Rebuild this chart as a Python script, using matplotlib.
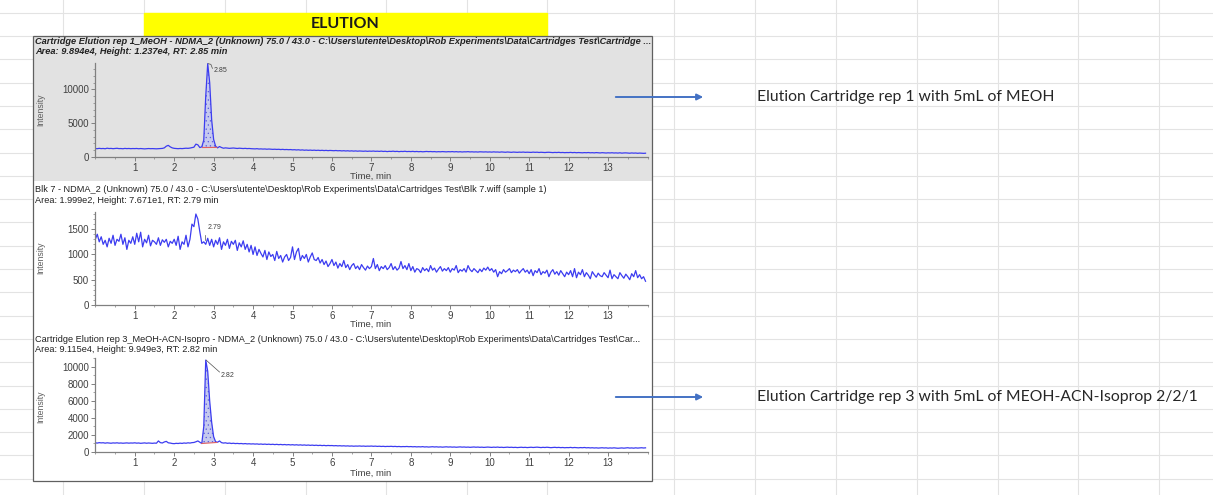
import numpy as np
import matplotlib.pyplot as plt
from matplotlib.patches import Rectangle
from matplotlib.ticker import MultipleLocator

plt.rcParams["hatch.linewidth"] = 0.4

# sampling of the traces, minutes
TIME_STEP = 0.05
N_POINTS = 280

# rep 1, MeOH (one row per minute)
rep1 = [
    1250, 1230, 1280, 1240, 1260, 1220, 1300, 1250, 1270, 1230, 1260, 1290, 1240, 1250, 1220, 1270, 1240, 1260, 1230, 1250,
    1240, 1260, 1220, 1250, 1230, 1200, 1220, 1250, 1230, 1240, 1220, 1210, 1230, 1250, 1270, 1350, 1600, 1720, 1500, 1350,
    1280, 1250, 1230, 1260, 1240, 1270, 1300, 1280, 1320, 1380, 1450, 1900, 1800, 1400, 1500, 2500, 9000, 13800, 11000, 5500,
    2600, 1600, 1350, 1550, 1400, 1300, 1350, 1320, 1280, 1300, 1330, 1290, 1260, 1300, 1270, 1250, 1280, 1240, 1260, 1230,
    1220, 1200, 1230, 1180, 1200, 1170, 1190, 1150, 1180, 1160, 1130, 1150, 1120, 1140, 1100, 1130, 1090, 1110, 1080, 1100,
    1060, 1080, 1040, 1070, 1020, 1050, 1000, 1030, 990, 1020, 980, 1010, 970, 1000, 960, 990, 950, 980, 940, 970,
    950, 930, 960, 920, 940, 900, 930, 890, 920, 880, 910, 870, 900, 860, 890, 870, 850, 880, 840, 870,
    850, 880, 840, 860, 830, 870, 820, 850, 800, 840, 820, 860, 810, 840, 790, 830, 810, 850, 800, 820,
    800, 830, 790, 820, 780, 810, 770, 800, 820, 790, 810, 780, 800, 760, 790, 770, 800, 780, 760, 790,
    770, 800, 760, 790, 750, 780, 740, 770, 760, 790, 750, 770, 740, 760, 730, 770, 750, 740, 760, 730,
    750, 720, 760, 730, 740, 710, 750, 720, 700, 740, 720, 690, 730, 710, 690, 720, 700, 730, 690, 710,
    700, 680, 720, 690, 710, 670, 700, 680, 660, 690, 700, 670, 650, 680, 660, 690, 650, 670, 640, 660,
    650, 680, 640, 670, 630, 660, 640, 620, 650, 630, 660, 620, 640, 610, 650, 630, 600, 640, 620, 590,
    620, 600, 630, 590, 610, 580, 620, 570, 600, 610, 580, 560, 600, 570, 590, 550, 580, 560, 540, 560,
]

# Blk 7
blank = [
    1300, 1400, 1250, 1350, 1200, 1280, 1150, 1320, 1220, 1380, 1180, 1300, 1260, 1400, 1200, 1330, 1100, 1280, 1220, 1350,
    1200, 1420, 1250, 1440, 1150, 1300, 1230, 1380, 1170, 1280, 1250, 1200, 1330, 1180, 1290, 1240, 1300, 1150, 1260, 1220,
    1300, 1180, 1360, 1100, 1250, 1200, 1380, 1150, 1300, 1600, 1550, 1800, 1700, 1450, 1220, 1250, 1200, 1320, 1180, 1300,
    1150, 1280, 1200, 1330, 1100, 1250, 1180, 1300, 1120, 1260, 1200, 1280, 1080, 1230, 1150, 1270, 1100, 1200, 1050, 1180,
    1000, 1150, 980, 1100, 1020, 950, 1080, 900, 1050, 960, 1000, 880, 1060, 920, 980, 850, 950, 1000, 880, 940,
    1150, 900, 1050, 1120, 880, 980, 920, 1000, 850, 950, 1030, 900, 880, 940, 830, 900, 800, 870, 760, 820,
    900, 780, 850, 730, 820, 760, 880, 740, 800, 700, 780, 820, 720, 770, 700, 800, 740, 690, 770, 720,
    760, 920, 720, 800, 680, 760, 720, 780, 700, 740, 820, 700, 760, 690, 730, 860, 720, 780, 700, 820,
    680, 760, 650, 720, 700, 640, 740, 680, 720, 660, 780, 690, 730, 650, 710, 760, 670, 720, 680, 740,
    650, 720, 690, 780, 640, 700, 670, 720, 650, 780, 700, 660, 720, 680, 640, 710, 660, 730, 690, 750,
    680, 720, 650, 700, 560, 660, 620, 700, 650, 680, 720, 640, 690, 660, 700, 630, 680, 720, 650, 690,
    620, 700, 580, 680, 640, 720, 600, 660, 630, 690, 560, 650, 700, 610, 660, 590, 680, 620, 560, 650,
    600, 680, 560, 720, 540, 650, 600, 700, 560, 640, 590, 520, 660, 600, 550, 630, 580, 560, 640, 590,
    540, 690, 520, 600, 560, 520, 640, 580, 530, 610, 560, 500, 620, 560, 680, 540, 600, 520, 560, 470,
]

# rep 3, MeOH-ACN-Isopro
rep3 = [
    1080, 1050, 1100, 1070, 1090, 1040, 1080, 1060, 1030, 1070, 1050, 1080, 1040, 1060, 1030, 1050, 1070, 1040, 1060, 1050,
    1080, 1040, 1060, 1020, 1050, 1070, 1030, 1060, 1040, 1020, 1050, 1030, 1300, 1100, 1060, 1180, 1250, 1080, 1050, 1000,
    980, 1020, 1000, 1040, 1010, 1060, 1030, 1080, 1050, 1100, 1120, 1200, 1300, 1150, 1000, 3000, 10800, 9500, 6000, 3500,
    1800, 1200, 1150, 1300, 1100, 1050, 1080, 1020, 1050, 1000, 1030, 990, 1010, 980, 1000, 960, 990, 950, 970, 940,
    960, 930, 950, 910, 940, 900, 930, 890, 920, 880, 910, 870, 900, 860, 890, 850, 880, 840, 870, 830,
    860, 820, 850, 810, 840, 800, 830, 790, 820, 780, 810, 770, 800, 760, 790, 750, 780, 740, 770, 750,
    760, 730, 750, 720, 740, 710, 730, 700, 720, 690, 710, 680, 700, 690, 710, 680, 700, 670, 690, 680,
    700, 670, 690, 660, 680, 650, 670, 640, 660, 650, 670, 640, 660, 630, 650, 620, 640, 630, 650, 620,
    640, 610, 630, 600, 620, 600, 630, 590, 610, 580, 600, 620, 590, 610, 580, 600, 570, 590, 610, 580,
    600, 570, 590, 560, 580, 600, 570, 590, 560, 580, 550, 570, 590, 560, 580, 550, 570, 540, 560, 580,
    560, 540, 570, 550, 580, 540, 560, 530, 550, 570, 540, 560, 530, 550, 520, 540, 560, 530, 550, 520,
    540, 560, 530, 550, 570, 540, 520, 550, 530, 560, 540, 510, 530, 550, 520, 540, 510, 530, 500, 520,
    510, 540, 500, 530, 510, 490, 520, 500, 530, 490, 510, 480, 500, 470, 490, 460, 480, 500, 470, 490,
    450, 480, 460, 490, 470, 440, 460, 480, 450, 470, 500, 460, 480, 450, 490, 460, 480, 500, 470, 490,
]

# integration baselines (start/end time, start/end intensity)
base1_t = [2.72, 3.08]
base1_y = [1400, 1420]
base3_t = [2.70, 3.08]
base3_y = [1000, 1120]

rt_labels = ["2.85", "2.79", "2.82"]
rt_values = [2.85, 2.79, 2.82]

titles = [
    "Cartridge Elution rep 1_MeOH - NDMA_2 (Unknown) 75.0 / 43.0 - C:\\Users\\utente\\Desktop\\Rob Experiments\\Data\\Cartridges Test\\Cartridge ...",
    "Blk 7 - NDMA_2 (Unknown) 75.0 / 43.0 - C:\\Users\\utente\\Desktop\\Rob Experiments\\Data\\Cartridges Test\\Blk 7.wiff (sample 1)",
    "Cartridge Elution rep 3_MeOH-ACN-Isopro - NDMA_2 (Unknown) 75.0 / 43.0 - C:\\Users\\utente\\Desktop\\Rob Experiments\\Data\\Cartridges Test\\Car...",
]
subtitles = [
    "Area: 9.894e4, Height: 1.237e4, RT: 2.85 min",
    "Area: 1.999e2, Height: 7.671e1, RT: 2.79 min",
    "Area: 9.115e4, Height: 9.949e3, RT: 2.82 min",
]
notes = [
    "Elution Cartridge rep 1 with 5mL of MEOH",
    "Elution Cartridge rep 3 with 5mL of MEOH-ACN-Isoprop 2/2/1",
]

t = np.round(np.arange(N_POINTS) * TIME_STEP, 2)
rep1 = np.array(rep1, dtype=float)
blank = np.array(blank, dtype=float)
rep3 = np.array(rep3, dtype=float)

W, H = 1213, 495
fig = plt.figure(figsize=(W / 100, H / 100), dpi=100)

# spreadsheet background in pixel coordinates
bg = fig.add_axes([0, 0, 1, 1])
bg.set_xlim(0, W)
bg.set_ylim(H, 0)
bg.axis("off")

grid_c = "#e3e3e3"
for x in [63, 144, 225, 306, 386, 467, 547, 674, 755, 836, 917, 998, 1078, 1159]:
    bg.axvline(x, color=grid_c, lw=0.8, zorder=0)
for k in range(22):
    bg.axhline(12.7 + 23.3 * k, color=grid_c, lw=0.8, zorder=0)

bg.add_patch(Rectangle((144, 12.7), 403, 23.3, color="#ffff00", zorder=1))
bg.text(345.5, 23.5, "ELUTION", fontsize=11.5, fontweight="bold", family="Lato",
        ha="center", va="center", color="#1a1a1a", zorder=2)

# chart window
bg.add_patch(Rectangle((33, 36), 619, 445, facecolor="white", edgecolor="none", zorder=2))
bg.add_patch(Rectangle((33, 36), 619, 145, facecolor="#e2e2e2", edgecolor="none", zorder=2))
bg.add_patch(Rectangle((33, 36), 619, 445, facecolor="none", edgecolor="#606060", lw=0.9, zorder=3))

font_chart = "Liberation Sans"
title_y = [(41, 51.5), (190, 200.5), (339, 350)]
for i in range(3):
    style = "italic" if i == 0 else "normal"
    weight = "bold" if i == 0 else "normal"
    size = 6.65 if i == 0 else 6.6
    bg.text(35, title_y[i][0], titles[i], fontsize=size, family=font_chart, style=style,
            weight=weight, va="center", ha="left", color="#222222", zorder=4)
    bg.text(35, title_y[i][1], subtitles[i], fontsize=size, family=font_chart, style=style,
            weight=weight, va="center", ha="left", color="#222222", zorder=4)

for y in [176, 324, 473]:
    bg.text(371, y, "Time, min", fontsize=6.8, family=font_chart, ha="center", va="center",
            color="#404040", zorder=4)
for y in [110, 258, 407]:
    bg.text(41, y, "Intensity", fontsize=6.3, family=font_chart, rotation=90, ha="center",
            va="center", color="#606060", zorder=4)

# arrows and notes to the right
for y, note in zip([97, 397], notes):
    bg.annotate("", xy=(706, y), xytext=(613, y), zorder=5,
                arrowprops=dict(arrowstyle="-|>", color="#4472c4", lw=1.4, mutation_scale=9))
    bg.text(757, y, note, fontsize=11.3, family="Lato", ha="left", va="center",
            color="#262626", zorder=5)


def px_axes(x0, x1, ytop, ybot):
    return fig.add_axes([x0 / W, 1 - ybot / H, (x1 - x0) / W, (ybot - ytop) / H])


def style_axes(ax, ytop, yticks, yminor):
    ax.set_facecolor("none")
    ax.set_xlim(0, 14)
    ax.set_ylim(0, ytop)
    ax.set_xticks(range(1, 14))
    ax.xaxis.set_minor_locator(MultipleLocator(0.5))
    ax.set_yticks(yticks)
    ax.yaxis.set_minor_locator(MultipleLocator(yminor))
    for s in ["top", "right"]:
        ax.spines[s].set_visible(False)
    for s in ["left", "bottom"]:
        ax.spines[s].set_color("#808080")
        ax.spines[s].set_linewidth(0.9)
    ax.tick_params(which="major", length=3, width=0.7, color="#808080", labelsize=7,
                   labelcolor="#404040", pad=1.5)
    ax.tick_params(which="minor", length=1.5, width=0.5, color="#808080")
    for lab in ax.get_xticklabels() + ax.get_yticklabels():
        lab.set_family(font_chart)


trace_c = "#3c3cf0"
fill_c = "#c5c9ee"

# panel 1
ax1 = px_axes(95.3, 647.5, 63, 157)
ax1.plot(t, rep1, color=trace_c, lw=0.9)
m = (t >= base1_t[0] - 0.03) & (t <= base1_t[1] + 0.03)
ax1.fill_between(t[m], rep1[m], np.interp(t[m], base1_t, base1_y), facecolor=fill_c,
                 edgecolor="#5a5ae0", hatch="....", lw=0)
ax1.plot(base1_t, base1_y, color="#e06060", lw=0.8)
ax1.plot([2.86, 2.93, 2.97], [13800, 13700, 13100], color="#505050", lw=0.5)
ax1.text(3.0, 12800, rt_labels[0], fontsize=5, family=font_chart, color="#404040", va="center")
style_axes(ax1, 13900, [0, 5000, 10000], 1000)

# panel 2
ax2 = px_axes(95.3, 647.5, 212, 305)
ax2.plot(t, blank, color=trace_c, lw=0.9)
ax2.plot([rt_values[1], rt_values[1]], [1290, 1380], color="#505050", lw=0.5)
ax2.text(2.85, 1540, rt_labels[1], fontsize=5, family=font_chart, color="#404040", va="center")
style_axes(ax2, 1840, [0, 500, 1000, 1500], 100)

# panel 3
ax3 = px_axes(95.3, 647.5, 358, 452)
ax3.plot(t, rep3, color=trace_c, lw=0.9)
m = (t >= base3_t[0]) & (t <= base3_t[1] + 0.03)
ax3.fill_between(t[m], rep3[m], np.interp(t[m], base3_t, base3_y), facecolor=fill_c,
                 edgecolor="#5a5ae0", hatch="....", lw=0)
ax3.plot(base3_t, base3_y, color="#e06060", lw=0.8)
ax3.plot([2.81, 3.15], [10800, 9400], color="#505050", lw=0.5)
ax3.text(3.18, 9050, rt_labels[2], fontsize=5, family=font_chart, color="#404040", va="center")
style_axes(ax3, 11050, [0, 2000, 4000, 6000, 8000, 10000], 1000)

fig.savefig("out.png", dpi=100)
